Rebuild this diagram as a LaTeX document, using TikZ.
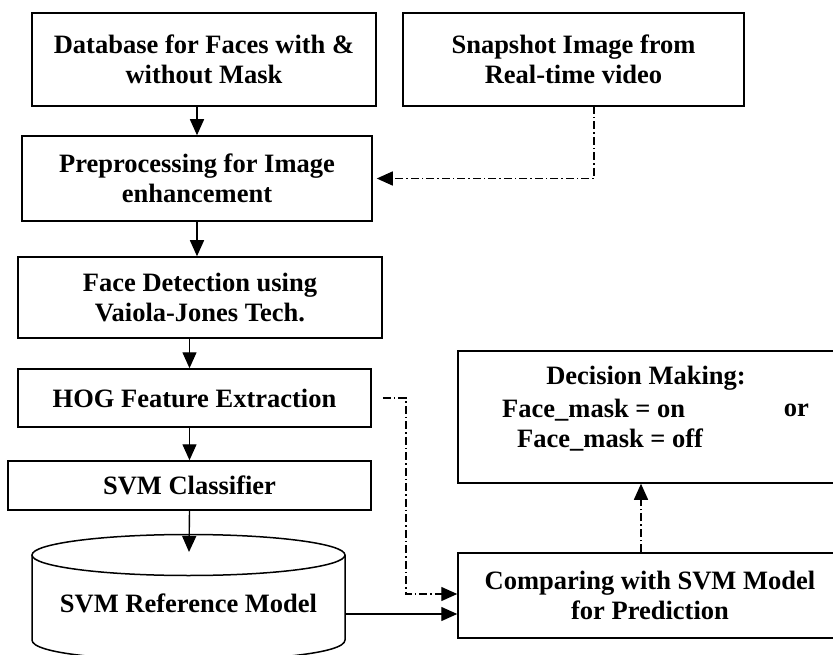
\documentclass[tikz,border=0pt]{standalone}
\usepackage{fontspec}
\setmainfont{Liberation Serif}
\usetikzlibrary{arrows.meta}
\begin{document}
\begin{tikzpicture}[x=1pt,y=-1pt,
  box/.style={draw,line width=1.5pt,inner sep=0pt,align=center,
    font=\fontsize{26.5}{29.5}\selectfont\bfseries},
  txt/.style={inner sep=0pt,font=\fontsize{26.5}{29.5}\selectfont\bfseries},
  arr/.style={line width=1.4pt,-{Triangle[length=16pt,width=14pt]}},
  dd/.style={dash pattern=on 8pt off 3pt on 1.5pt off 3pt}]
\useasboundingbox (0,0) rectangle (833,655);
\clip (0,0) rectangle (833,655);
\fill[white] (0,0) rectangle (833,655);
% left column
\node[box,minimum width=344pt,minimum height=93pt] (db) at (204,59.5) {Database for Faces with \&\\without Mask};
\node[box,minimum width=341pt,minimum height=93pt] (snap) at (573.5,59.5) {Snapshot Image from\\Real-time video};
\node[box,minimum width=350pt,minimum height=85pt] (pre) at (197,178.5) {Preprocessing for Image\\enhancement};
\node[box,minimum width=364pt,minimum height=81pt] (face) at (200,297.5) {Face Detection using\\Vaiola-Jones Tech.};
\node[box,minimum width=353pt,minimum height=58pt] (hog) at (194.5,398) {HOG Feature Extraction};
\node[box,minimum width=363pt,minimum height=49pt] (svm) at (189.5,485.5) {SVM Classifier};
% cylinder
\draw[line width=1.5pt,fill=white] (32,555) -- (32,640) .. controls (32,667.3) and (345,667.3) .. (345,640) -- (345,555);
\draw[line width=1.5pt,fill=white] (188.5,555) ellipse [x radius=156.5, y radius=20.5];
\node[txt] (cyl) at (188.5,603) {SVM Reference Model};
\coordinate (cyltop) at (189,552);
\coordinate (cylR) at (345,614);
% right column
\node[box,minimum width=384pt,minimum height=132pt] (dec) at (650,417) {};
\node[txt] (d1) at (646,378) {Decision Making:};
\node[txt,anchor=west] (d2) at (502,410) {Face\_mask = on};
\node[txt,anchor=east] (d2b) at (809,410) {or};
\node[txt,anchor=west] (d3) at (517,440) {Face\_mask = off};
\node[box,minimum width=384pt,minimum height=85pt] (cmp) at (650,595.5) {Comparing with SVM Model\\for Prediction};
% connectors
\draw[arr] (db.south -| pre.north) -- (pre.north);
\draw[arr] (pre.south) -- (pre.south |- face.north);
\draw[arr] (face.south -| svm.north) -- (hog.north -| svm.north);
\draw[arr] (hog.south -| svm.north) -- (svm.north);
\draw[arr] (svm.south) -- (cyltop);
\draw[arr] (cylR) -- (cylR -| cmp.west);
\coordinate (s1) at (594,106);
\draw[arr,dd] (s1) |- ([xshift=4pt]pre.east);
\coordinate (h1) at (406,594);
\draw[arr,dd] ([xshift=11pt]hog.east) -| (h1) -- (h1 -| cmp.west);
\draw[arr,dd] ([xshift=-9pt]cmp.north) -- ([xshift=-9pt]dec.south);
\end{tikzpicture}
\end{document}
